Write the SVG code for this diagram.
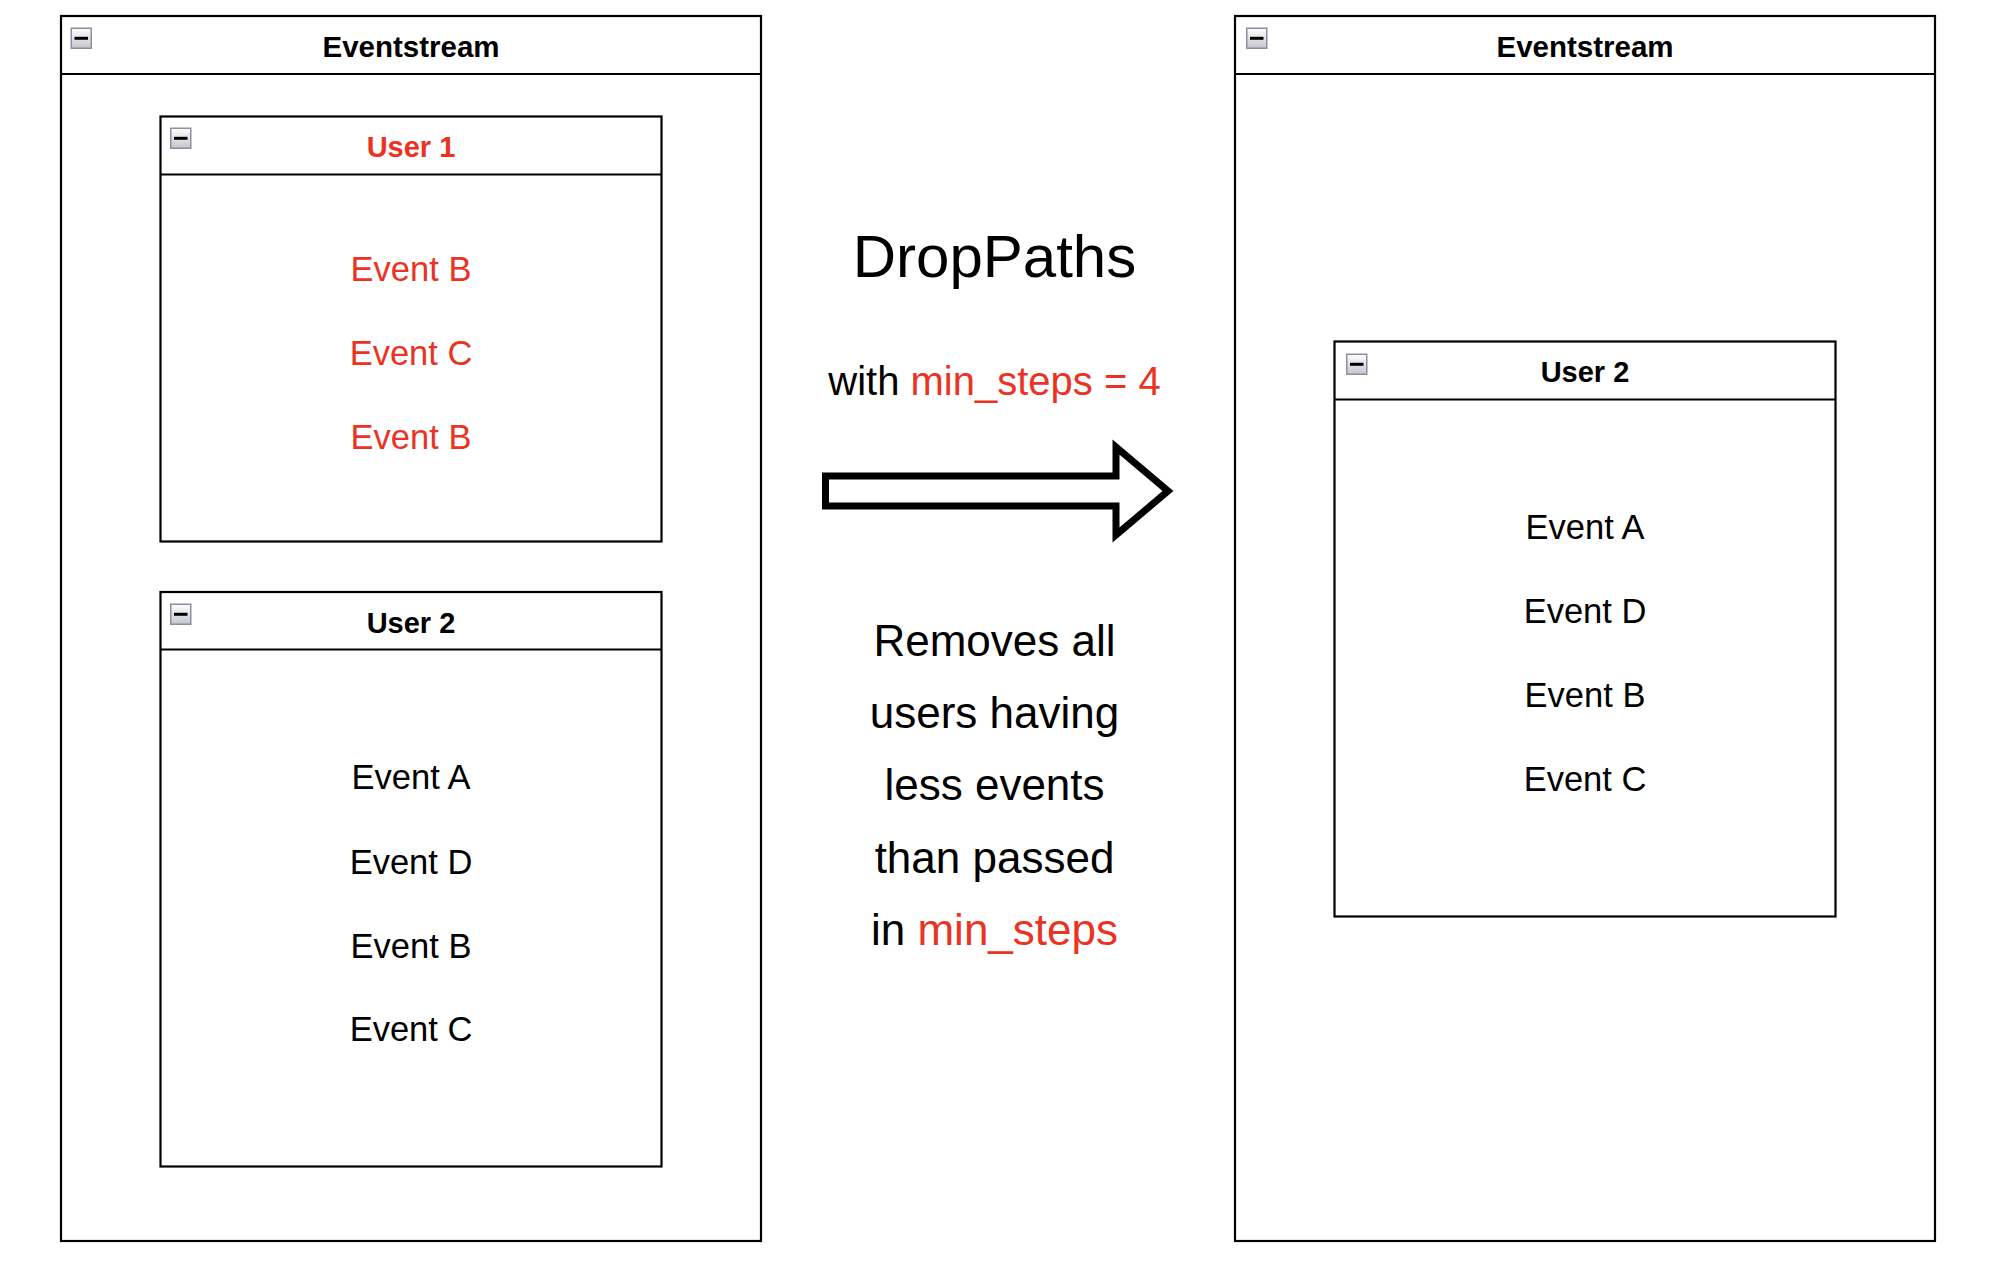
<svg xmlns="http://www.w3.org/2000/svg" width="2012" height="1266" viewBox="0 0 2012 1266">
<style>
.box{fill:#fff;stroke:#000;stroke-width:2.2}
.hdr{stroke:#000;stroke-width:2.2}
.ttl{font-family:"Liberation Sans",Arial,Helvetica,sans-serif;font-weight:bold;text-anchor:middle;fill:#000}
.ev{font-family:"Liberation Sans",Arial,Helvetica,sans-serif;font-size:34.5px;text-anchor:middle;fill:#000}
.mid{font-family:"Liberation Sans",Arial,Helvetica,sans-serif;text-anchor:middle;fill:#000}
.red{fill:#EA3323}
</style>
<defs>
<linearGradient id="icg" x1="0" y1="0" x2="0" y2="1">
<stop offset="0" stop-color="#ffffff"/>
<stop offset="1" stop-color="#c4c6cc"/>
</linearGradient>
<g id="minus">
<rect x="0.75" y="0.75" width="20" height="20" fill="url(#icg)" stroke="#8b8fa0" stroke-width="1.5"/>
<rect x="4" y="9.3" width="13.5" height="3" fill="#000"/>
</g>
</defs>
<rect width="2012" height="1266" fill="#fff"/>

<g id="eventstream-left">
<rect class="box" x="61" y="16" width="700" height="1225"/>
<line class="hdr" x1="61" y1="74" x2="761" y2="74"/>
<use href="#minus" x="70.5" y="27.5"/>
<text class="ttl" x="411" y="57" font-size="29.5">Eventstream</text>
</g>

<g id="user1">
<rect class="box" x="160.5" y="116.5" width="501" height="425"/>
<line class="hdr" x1="160.5" y1="174.5" x2="661.5" y2="174.5"/>
<use href="#minus" x="170" y="127.5"/>
<text class="ttl red" x="411" y="156.5" font-size="29">User 1</text>
<text class="ev red" x="411" y="281">Event B</text>
<text class="ev red" x="411" y="365">Event C</text>
<text class="ev red" x="411" y="449">Event B</text>
</g>

<g id="user2-left">
<rect class="box" x="160.5" y="592" width="501" height="574.5"/>
<line class="hdr" x1="160.5" y1="649.5" x2="661.5" y2="649.5"/>
<use href="#minus" x="170" y="603.5"/>
<text class="ttl" x="411" y="632.5" font-size="29">User 2</text>
<text class="ev" x="411" y="789">Event A</text>
<text class="ev" x="411" y="873.5">Event D</text>
<text class="ev" x="411" y="957.5">Event B</text>
<text class="ev" x="411" y="1041">Event C</text>
</g>

<g id="eventstream-right">
<rect class="box" x="1235" y="16" width="700" height="1225"/>
<line class="hdr" x1="1235" y1="74" x2="1935" y2="74"/>
<use href="#minus" x="1246" y="27.5"/>
<text class="ttl" x="1585" y="57" font-size="29.5">Eventstream</text>
</g>

<g id="user2-right">
<rect class="box" x="1334.5" y="341.5" width="501" height="575"/>
<line class="hdr" x1="1334.5" y1="399.5" x2="1835.5" y2="399.5"/>
<use href="#minus" x="1346" y="353.5"/>
<text class="ttl" x="1585" y="382" font-size="29">User 2</text>
<text class="ev" x="1585" y="538.5">Event A</text>
<text class="ev" x="1585" y="623">Event D</text>
<text class="ev" x="1585" y="707">Event B</text>
<text class="ev" x="1585" y="790.5">Event C</text>
</g>

<g id="label-droppaths">
<text class="mid" x="994.5" y="277" font-size="60">DropPaths</text>
<text class="mid" x="994.5" y="394.5" font-size="40">with <tspan class="red">min_steps = 4</tspan></text>
</g>

<g id="label-description">
<text class="mid" x="994.5" y="656" font-size="44">Removes all</text>
<text class="mid" x="994.5" y="728" font-size="44">users having</text>
<text class="mid" x="994.5" y="800" font-size="44">less events</text>
<text class="mid" x="994.5" y="872.5" font-size="44">than passed</text>
<text class="mid" x="994.5" y="944.5" font-size="44">in <tspan class="red">min_steps</tspan></text>
</g>

<g id="connectors">
<polygon points="825.5,476 1116,476 1116,447 1168,491 1116,535 1116,506 825.5,506" fill="#fff" stroke="#000" stroke-width="7" stroke-linejoin="miter" stroke-miterlimit="10"/>
</g>
</svg>
